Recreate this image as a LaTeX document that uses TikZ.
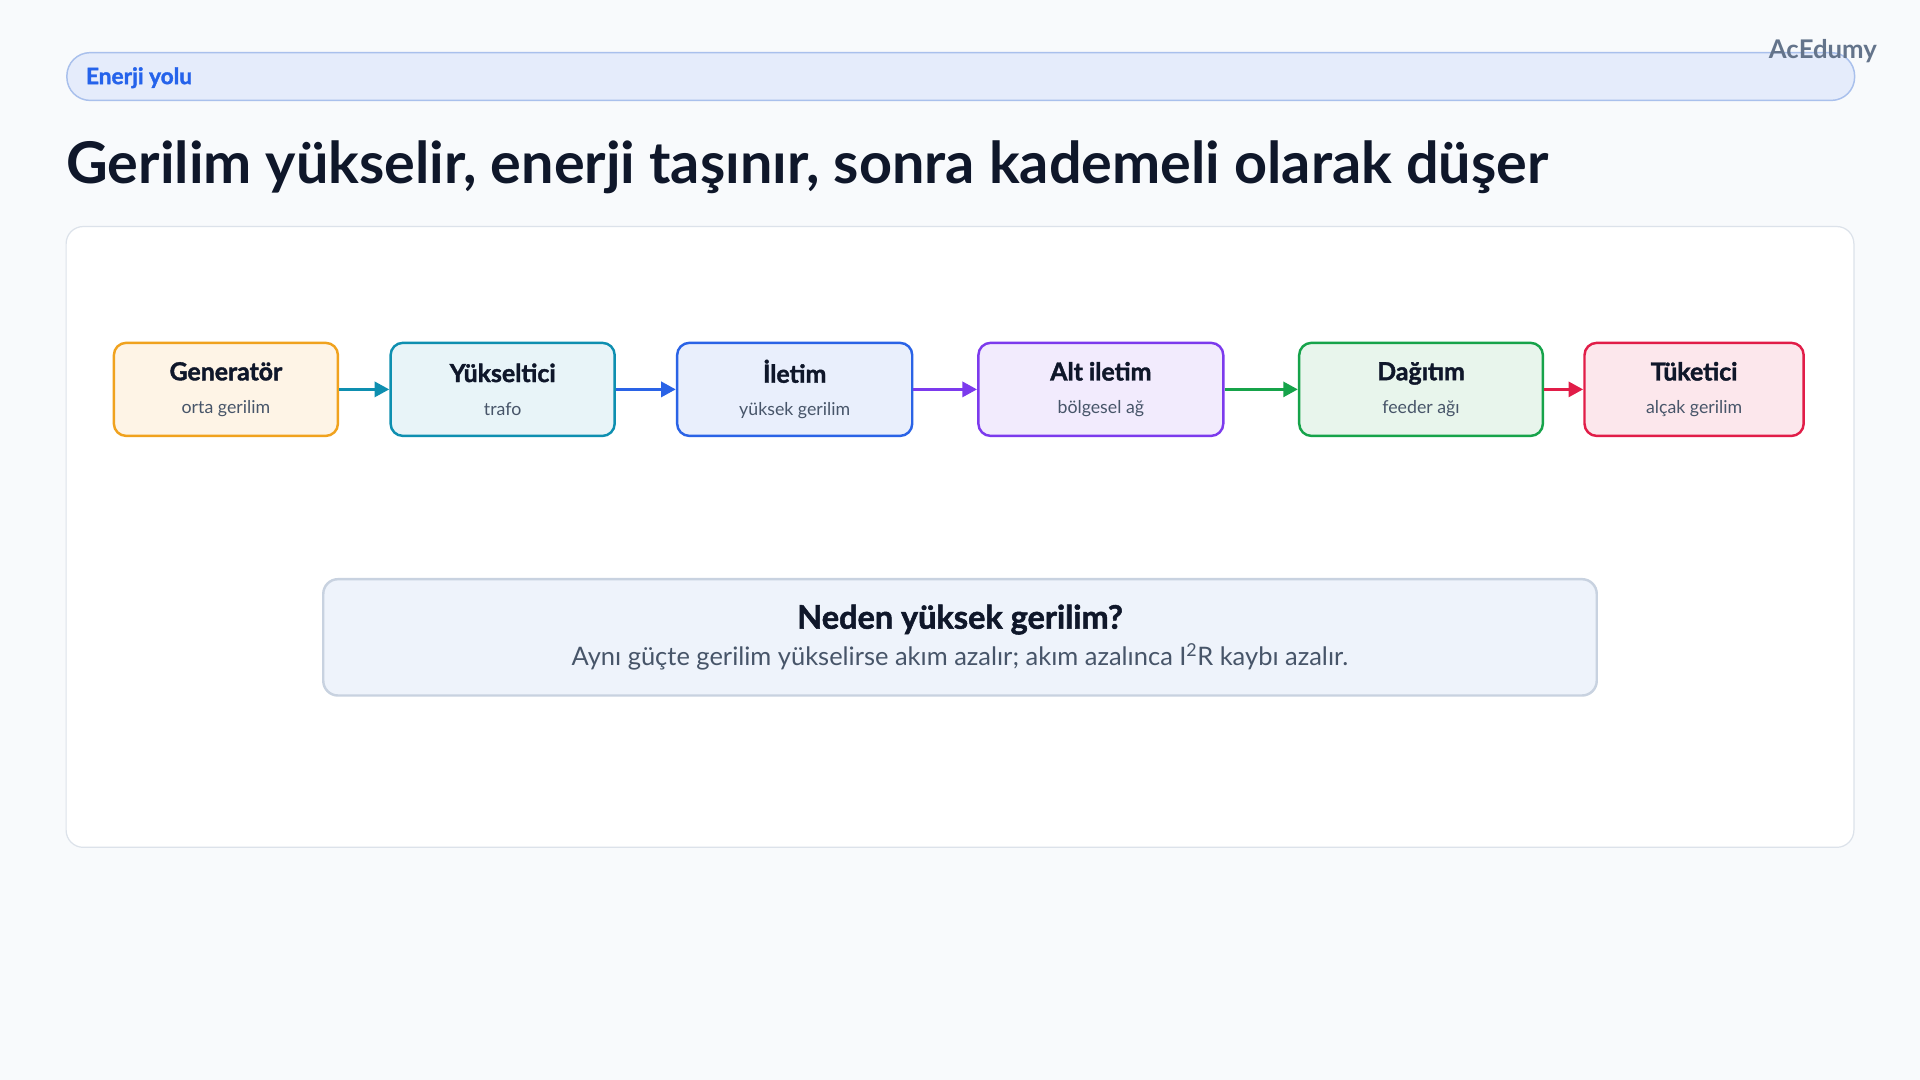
\documentclass[tikz,border=0pt]{standalone}
\usepackage{fontspec}
\setmainfont{Lato}
\newfontface\heavyfont{Lato Bold}[FakeBold=1.6]
\usetikzlibrary{arrows.meta,positioning,backgrounds}
\definecolor{pagebg}{HTML}{F8FAFC}
\definecolor{ink}{HTML}{0F172A}
\definecolor{muted}{HTML}{475569}
\definecolor{brand}{HTML}{64748B}
\definecolor{tagblue}{HTML}{2563EB}
\definecolor{tagfill}{HTML}{E5ECFB}
\definecolor{tagline}{HTML}{A9C0EC}
\definecolor{panelline}{HTML}{DCE2EA}
\definecolor{genline}{HTML}{F0A21E}\definecolor{genfill}{HTML}{FEF4E6}
\definecolor{yukline}{HTML}{0E8FB0}\definecolor{yukfill}{HTML}{E8F4F8}
\definecolor{iletline}{HTML}{2A63E6}\definecolor{iletfill}{HTML}{E9EFFC}
\definecolor{altline}{HTML}{7C3AED}\definecolor{altfill}{HTML}{F2EBFD}
\definecolor{dagline}{HTML}{16A34A}\definecolor{dagfill}{HTML}{E8F5EC}
\definecolor{tukline}{HTML}{E11D48}\definecolor{tukfill}{HTML}{FCE7EC}
\definecolor{notefill}{HTML}{EEF3FB}
\definecolor{noteline}{HTML}{C8D2E0}
\newcommand{\stitle}{\fontsize{20.3}{27}\selectfont\heavyfont\color{ink}}
\newcommand{\ssub}{\fontsize{14.5}{27}\selectfont\color{muted}}

\begin{document}
\begin{tikzpicture}[x=1pt, y=-1pt,
  stage/.style args={#1/#2}{draw=#1, fill=#2, line width=2pt, rounded corners=10pt,
    minimum height=76pt, inner sep=0pt, align=center, font=\fontsize{14.5}{27}\selectfont},
  flow/.style={draw=#1, line width=3pt, -{Triangle[length=12pt,width=12pt]}},
  every node/.style={text=ink}]
  % page and frame
  \fill[pagebg] (0,0) rectangle (1568,882);
  \useasboundingbox (0,0) rectangle (1568,882);
  \node[draw=tagline, fill=tagfill, line width=1.2pt, rounded corners=19pt,
    minimum width=1460pt, minimum height=39pt, anchor=west] (bar) at (54,62.5) {};
  \node[anchor=west, inner sep=0pt, text=tagblue, font=\fontsize{18.5}{22}\selectfont\heavyfont]
    (tag) at (70,63.5) {Enerji yolu};
  \node[anchor=base east, inner sep=0pt, text=brand, font=\fontsize{21}{24}\selectfont\bfseries]
    (brand) at (1533,48) {AcEdumy};
  \node[anchor=base west, inner sep=0pt, font=\fontsize{47}{56}\selectfont\bfseries]
    (title) at (54,150) {Gerilim yükselir, enerji taşınır, sonra kademeli olarak düşer};
  \node[draw=panelline, fill=white, line width=1pt, rounded corners=14pt,
    minimum width=1460pt, minimum height=507pt] (panel) at (784,438.5) {};

  % Stages of the energy path
  \node[stage=genline/genfill, minimum width=183pt] (gen) at (184.5,318)
    {\stitle Generatör\\\ssub orta gerilim};
  \node[stage=yukline/yukfill, minimum width=183pt] (yuk) at (410.5,318)
    {\stitle Yükseltici\\\ssub trafo};
  \node[stage=iletline/iletfill, minimum width=192pt] (ilet) at (649,318)
    {\stitle İletim\\\ssub yüksek gerilim};
  \node[stage=altline/altfill, minimum width=200pt] (alt) at (899,318)
    {\stitle Alt iletim\\\ssub bölgesel ağ};
  \node[stage=dagline/dagfill, minimum width=199pt] (dag) at (1160.5,318)
    {\stitle Dağıtım\\\ssub feeder ağı};
  \node[stage=tukline/tukfill, minimum width=179pt] (tuk) at (1383.5,318)
    {\stitle Tüketici\\\ssub alçak gerilim};

  % Arrows between the stages
  \draw[flow=yukline] (gen) -- (yuk);
  \draw[flow=iletline] (yuk) -- (ilet);
  \draw[flow=altline] (ilet) -- (alt);
  \draw[flow=dagline] (alt) -- (dag);
  \draw[flow=tukline] (dag) -- (tuk);

  % Note below
  \node[draw=noteline, fill=notefill, line width=2pt, rounded corners=12pt,
    minimum width=1040pt, minimum height=95pt, align=center,
    font=\fontsize{20.8}{30}\selectfont] (note) at (784,520.5)
    {{\fontsize{26.5}{30}\selectfont\heavyfont Neden yüksek gerilim?}\\
     \color{muted}Aynı güçte gerilim yükselirse akım azalır; akım azalınca I\textsuperscript{2}R kaybı azalır.};
\end{tikzpicture}
\end{document}
